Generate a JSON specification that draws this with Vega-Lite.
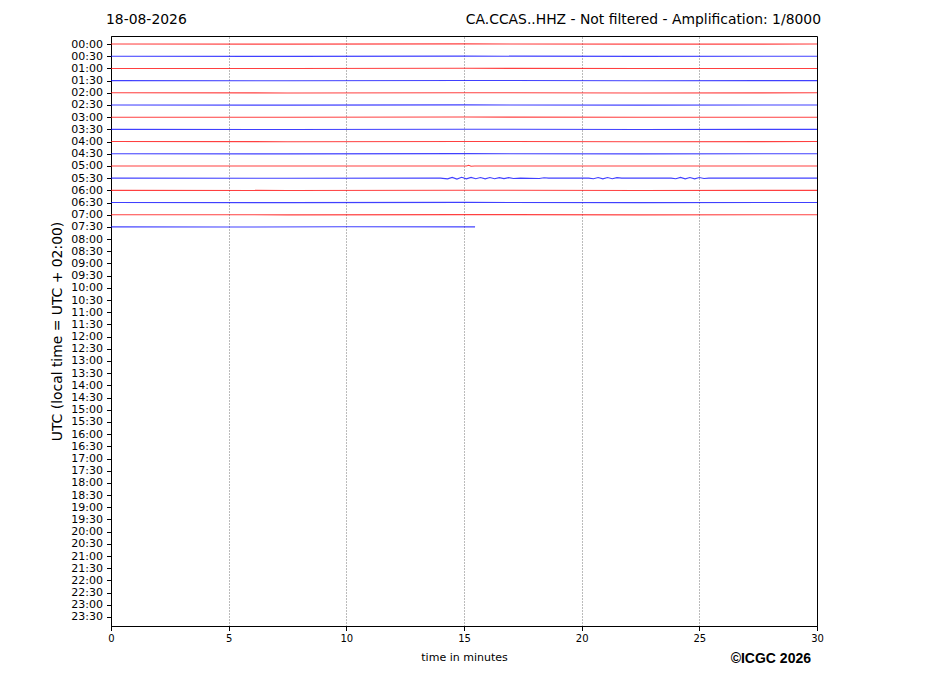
{
  "$schema": "https://vega.github.io/schema/vega-lite/v6.json",
  "width": 706,
  "height": 590,
  "autosize": {"type": "none"},
  "padding": {"left": 111, "top": 36, "right": 110, "bottom": 70},
  "background": "white",
  "datasets": {
    "traces": [
      {"t": "00:00", "m": 0, "v": 0}, {"t": "00:00", "m": 7.5, "v": 0.01}, {"t": "00:00", "m": 15, "v": -0.01}, {"t": "00:00", "m": 22.5, "v": 0.01}, {"t": "00:00", "m": 30, "v": 0},
      {"t": "00:30", "m": 0, "v": 1}, {"t": "00:30", "m": 7.5, "v": 1.01}, {"t": "00:30", "m": 15, "v": 0.99}, {"t": "00:30", "m": 22.5, "v": 1.01}, {"t": "00:30", "m": 30, "v": 1},
      {"t": "01:00", "m": 0, "v": 2}, {"t": "01:00", "m": 7.5, "v": 2.01}, {"t": "01:00", "m": 15, "v": 1.99}, {"t": "01:00", "m": 22.5, "v": 2.01}, {"t": "01:00", "m": 30, "v": 2},
      {"t": "01:30", "m": 0, "v": 3}, {"t": "01:30", "m": 7.5, "v": 3.01}, {"t": "01:30", "m": 15, "v": 2.99}, {"t": "01:30", "m": 22.5, "v": 3.01}, {"t": "01:30", "m": 30, "v": 3},
      {"t": "02:00", "m": 0, "v": 4}, {"t": "02:00", "m": 7.5, "v": 4.01}, {"t": "02:00", "m": 15, "v": 3.99}, {"t": "02:00", "m": 22.5, "v": 4.01}, {"t": "02:00", "m": 30, "v": 4},
      {"t": "02:30", "m": 0, "v": 5}, {"t": "02:30", "m": 7.5, "v": 5.01}, {"t": "02:30", "m": 15, "v": 4.99}, {"t": "02:30", "m": 22.5, "v": 5.01}, {"t": "02:30", "m": 30, "v": 5},
      {"t": "03:00", "m": 0, "v": 6}, {"t": "03:00", "m": 7.5, "v": 6.01}, {"t": "03:00", "m": 15, "v": 5.99}, {"t": "03:00", "m": 22.5, "v": 6.01}, {"t": "03:00", "m": 30, "v": 6},
      {"t": "03:30", "m": 0, "v": 7}, {"t": "03:30", "m": 7.5, "v": 7.01}, {"t": "03:30", "m": 15, "v": 6.99}, {"t": "03:30", "m": 22.5, "v": 7.01}, {"t": "03:30", "m": 30, "v": 7},
      {"t": "04:00", "m": 0, "v": 8}, {"t": "04:00", "m": 7.5, "v": 8.01}, {"t": "04:00", "m": 15, "v": 7.99}, {"t": "04:00", "m": 22.5, "v": 8.01}, {"t": "04:00", "m": 30, "v": 8},
      {"t": "04:30", "m": 0, "v": 9}, {"t": "04:30", "m": 7.5, "v": 9.01}, {"t": "04:30", "m": 15, "v": 8.99}, {"t": "04:30", "m": 22.5, "v": 9.01}, {"t": "04:30", "m": 30, "v": 9},
      {"t": "05:00", "m": 0, "v": 10}, {"t": "05:00", "m": 7.5, "v": 10.01}, {"t": "05:00", "m": 15.1, "v": 10}, {"t": "05:00", "m": 15.2, "v": 9.94}, {"t": "05:00", "m": 15.3, "v": 10.03}, {"t": "05:00", "m": 15.45, "v": 10}, {"t": "05:00", "m": 22.5, "v": 10.01}, {"t": "05:00", "m": 30, "v": 10},
      {"t": "05:30", "m": 0, "v": 11}, {"t": "05:30", "m": 7.5, "v": 11.01}, {"t": "05:30", "m": 14.0, "v": 11},
      {"t": "05:30", "m": 14.3, "v": 11.06}, {"t": "05:30", "m": 14.5, "v": 10.94}, {"t": "05:30", "m": 14.7, "v": 11.08}, {"t": "05:30", "m": 14.9, "v": 10.93},
      {"t": "05:30", "m": 15.1, "v": 11.06}, {"t": "05:30", "m": 15.3, "v": 10.94}, {"t": "05:30", "m": 15.5, "v": 11.05}, {"t": "05:30", "m": 15.7, "v": 10.95},
      {"t": "05:30", "m": 15.9, "v": 11.06}, {"t": "05:30", "m": 16.1, "v": 10.95}, {"t": "05:30", "m": 16.3, "v": 11.05}, {"t": "05:30", "m": 16.5, "v": 10.96},
      {"t": "05:30", "m": 16.7, "v": 11.04}, {"t": "05:30", "m": 16.9, "v": 10.96}, {"t": "05:30", "m": 17.1, "v": 11.03}, {"t": "05:30", "m": 17.4, "v": 11},
      {"t": "05:30", "m": 18.2, "v": 11.03}, {"t": "05:30", "m": 18.4, "v": 10.97}, {"t": "05:30", "m": 18.6, "v": 11},
      {"t": "05:30", "m": 20.3, "v": 11}, {"t": "05:30", "m": 20.5, "v": 11.05}, {"t": "05:30", "m": 20.7, "v": 10.95}, {"t": "05:30", "m": 20.9, "v": 11.06},
      {"t": "05:30", "m": 21.1, "v": 10.95}, {"t": "05:30", "m": 21.3, "v": 11.05}, {"t": "05:30", "m": 21.5, "v": 10.96}, {"t": "05:30", "m": 21.7, "v": 11},
      {"t": "05:30", "m": 23.8, "v": 11}, {"t": "05:30", "m": 24.0, "v": 11.05}, {"t": "05:30", "m": 24.2, "v": 10.94}, {"t": "05:30", "m": 24.4, "v": 11.06},
      {"t": "05:30", "m": 24.6, "v": 10.95}, {"t": "05:30", "m": 24.8, "v": 11.06}, {"t": "05:30", "m": 25.0, "v": 10.95}, {"t": "05:30", "m": 25.2, "v": 11.03},
      {"t": "05:30", "m": 25.4, "v": 11}, {"t": "05:30", "m": 30, "v": 11},
      {"t": "06:00", "m": 0, "v": 12}, {"t": "06:00", "m": 7.5, "v": 12.01}, {"t": "06:00", "m": 15, "v": 11.99}, {"t": "06:00", "m": 22.5, "v": 12.01}, {"t": "06:00", "m": 30, "v": 12},
      {"t": "06:30", "m": 0, "v": 13}, {"t": "06:30", "m": 7.5, "v": 13.01}, {"t": "06:30", "m": 15, "v": 12.99}, {"t": "06:30", "m": 22.5, "v": 13.01}, {"t": "06:30", "m": 30, "v": 13},
      {"t": "07:00", "m": 0, "v": 14}, {"t": "07:00", "m": 7.5, "v": 14.01}, {"t": "07:00", "m": 15, "v": 13.99}, {"t": "07:00", "m": 22.5, "v": 14.01}, {"t": "07:00", "m": 30, "v": 14},
      {"t": "07:30", "m": 0, "v": 15}, {"t": "07:30", "m": 5, "v": 15.01}, {"t": "07:30", "m": 10, "v": 14.99}, {"t": "07:30", "m": 15.47, "v": 15}
    ]
  },
  "layer": [
    {
      "data": {"name": "traces"},
      "mark": {"type": "line", "strokeWidth": 1.1, "opacity": 0.75, "interpolate": "linear"},
      "encoding": {
        "x": {
          "field": "m",
          "type": "quantitative",
          "scale": {"domain": [0, 30], "nice": false, "zero": false},
          "axis": {
            "values": [0, 5, 10, 15, 20, 25, 30],
            "tickCount": 7,
            "title": "time in minutes",
            "grid": true,
            "gridColor": "#000000",
            "gridDash": [1, 2],
            "gridWidth": 0.6,
            "gridOpacity": 0.9,
            "labelFontSize": 10,
            "labelPadding": 3,
            "labelFlush": false,
            "titleFontSize": 11,
            "titleFontWeight": "normal",
            "titlePadding": 8
          }
        },
        "y": {
          "field": "v",
          "type": "quantitative",
          "scale": {"domain": [-0.66, 47.74], "reverse": true, "nice": false, "zero": false},
          "axis": {
            "values": [0, 1, 2, 3, 4, 5, 6, 7, 8, 9, 10, 11, 12, 13, 14, 15, 16, 17, 18, 19, 20, 21, 22, 23, 24, 25, 26, 27, 28, 29, 30, 31, 32, 33, 34, 35, 36, 37, 38, 39, 40, 41, 42, 43, 44, 45, 46, 47],
            "tickCount": 48,
            "labelExpr": "(floor(datum.value / 2) < 10 ? '0' : '') + floor(datum.value / 2) + (datum.value % 2 ? ':30' : ':00')",
            "title": "UTC (local time = UTC + 02:00)",
            "grid": false,
            "labelFontSize": 11,
            "labelPadding": 4,
            "labelOverlap": false,
            "labelFlush": false,
            "titleFontSize": 13.9,
            "titleFontWeight": "normal",
            "titlePadding": 6
          }
        },
        "color": {
          "field": "t",
          "type": "nominal",
          "legend": null,
          "scale": {
            "domain": ["00:00", "00:30", "01:00", "01:30", "02:00", "02:30", "03:00", "03:30", "04:00", "04:30", "05:00", "05:30", "06:00", "06:30", "07:00", "07:30"],
            "range": ["#ff0000", "#0000ff", "#ff0000", "#0000ff", "#ff0000", "#0000ff", "#ff0000", "#0000ff", "#ff0000", "#0000ff", "#ff0000", "#0000ff", "#ff0000", "#0000ff", "#ff0000", "#0000ff"]
          }
        }
      }
    },
    {
      "data": {"values": [{}]},
      "mark": {"type": "text", "align": "left", "baseline": "middle", "dx": -5, "dy": -16, "fontSize": 13.9},
      "encoding": {
        "x": {"datum": 0},
        "y": {"datum": -0.66},
        "text": {"value": "18-08-2026"}
      }
    },
    {
      "data": {"values": [{}]},
      "mark": {"type": "text", "align": "right", "baseline": "middle", "dx": 4, "dy": -16, "fontSize": 13.9},
      "encoding": {
        "x": {"datum": 30},
        "y": {"datum": -0.66},
        "text": {"value": "CA.CCAS..HHZ - Not filtered - Amplification: 1/8000"}
      }
    },
    {
      "data": {"values": [{}]},
      "mark": {"type": "text", "align": "right", "baseline": "middle", "dx": -6, "dy": 33, "fontSize": 14, "fontWeight": "bold", "font": "Liberation Sans"},
      "encoding": {
        "x": {"datum": 30},
        "y": {"datum": 47.74},
        "text": {"value": "©ICGC 2026"}
      }
    }
  ],
  "config": {
    "font": "DejaVu Sans",
    "view": {"stroke": "#000000", "strokeWidth": 1},
    "axis": {
      "domainColor": "#000000",
      "domainWidth": 1,
      "tickColor": "#000000",
      "tickSize": 4.5,
      "labelColor": "#000000",
      "titleColor": "#000000",
      "labelFont": "DejaVu Sans",
      "titleFont": "DejaVu Sans"
    },
    "text": {"color": "#000000", "font": "DejaVu Sans"}
  }
}
